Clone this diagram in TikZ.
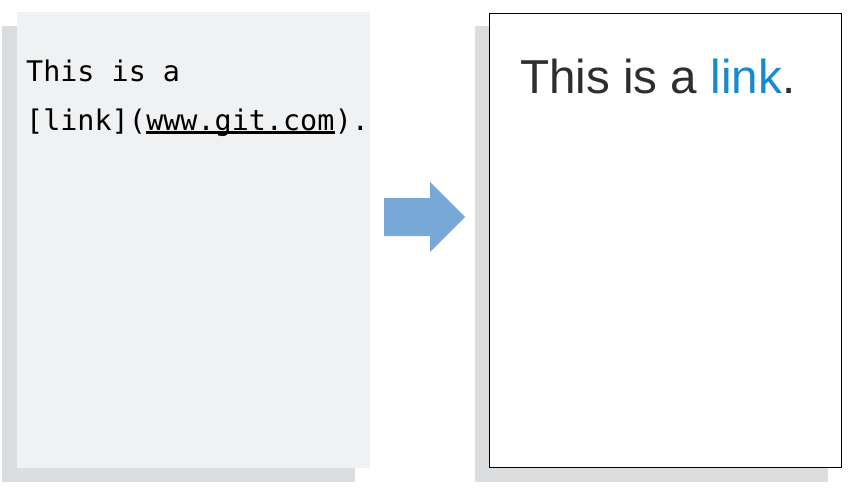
\documentclass[tikz,border=0pt]{standalone}
\usepackage{fontspec}
\setsansfont{Liberation Sans}
\newfontfamily\codefont{DejaVu Sans Mono}
\usetikzlibrary{positioning}
\definecolor{pagegray}{HTML}{F0F1F3}
\definecolor{shadowgray}{HTML}{DCDDDF}
\definecolor{arrowblue}{HTML}{78A9D6}
\definecolor{textdark}{HTML}{2E2E2E}
\definecolor{linkblue}{HTML}{1689CF}
\begin{document}
\begin{tikzpicture}[x=1pt,y=-1pt,
	shadow/.style={rectangle, inner sep=0pt, minimum width=353pt, minimum height=456pt, fill=shadowgray},
	page/.style={rectangle, inner sep=0pt, minimum width=353pt, minimum height=456pt},
	code/.style={inner sep=0pt, anchor=base west, font=\codefont\fontsize{28.4}{34}\selectfont, text=black},
	render/.style={inner sep=0pt, anchor=base west, font=\sffamily\fontsize{47.6}{56}\selectfont, text=textdark}]
	
	\useasboundingbox (0,0) rectangle (862,493);
	
	%Nodes
	\node[shadow]	(lshadow)	at (178,254) {};
	\node[page, fill=pagegray]	(source)	at (193.5,240) {};
	\node[shadow]	(rshadow)	at (651.5,254) {};
	\node[page, fill=white, draw=black, line width=1.2pt, minimum width=352pt, minimum height=454pt]	(output)	at (665.5,240.5) {};
	
	\node[code]	(line1)	at (26,81)	{This is a};
	\node[code]	(open)	at (26,130)	{[link](};
	\node[code]	(url)	at (open.base east)	{www.git.com};
	\node[code]	(close)	at (url.base east)	{).};
	
	\node[render]	(result)	at (520,93)	{This is a \textcolor{linkblue}{link}.};
	
	%Lines
	\draw[black, line width=3.2pt] ([yshift=-2.6pt]url.base west) -- ([yshift=-2.6pt]url.base east);
	
	\fill[arrowblue] (384,198) -- (430,198) -- (430,182) -- (465,217) -- (430,252) -- (430,236) -- (384,236) -- cycle;
\end{tikzpicture}
\end{document}
